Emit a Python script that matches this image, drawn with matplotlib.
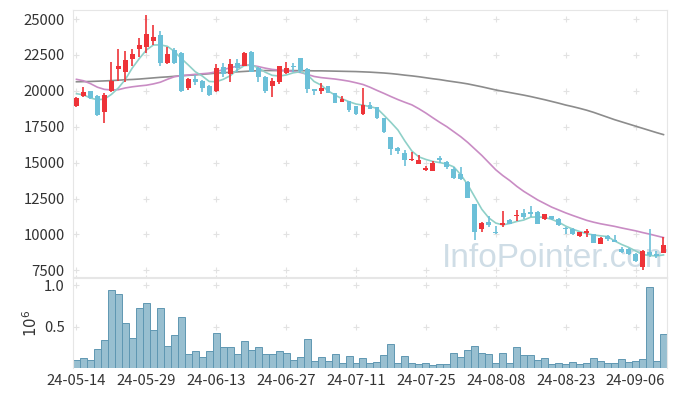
import matplotlib
matplotlib.use("Agg")
import matplotlib.pyplot as plt
import numpy as np

# x-axis labels (one every 10 trading days)
tick_labels = ["24-05-14", "24-05-29", "24-06-13", "24-06-27", "24-07-11",
               "24-07-25", "24-08-08", "24-08-23", "24-09-06"]

# daily candles
opens = [18950, 19640, 19990, 19650, 18550, 20000, 21520, 21310, 22220, 22900,
         23070, 23470, 23890, 21910, 22840, 22650, 20220, 20820, 20700, 20330,
         19990, 21640, 21150, 21910, 21750, 22680, 21570, 20980, 20360, 20630,
         21220, 21730, 22260, 21500, 20100, 19990, 20330, 19830, 19220, 19290,
         18940, 18380, 19010, 18890, 18130, 16780, 16040, 15690, 15180, 14920,
         14490, 14440, 15320, 15040, 14550, 14200, 13670, 12120, 10350, 10880,
         10190, 10630, 11000, 11260, 11510, 11560, 11560, 11050, 11280, 11100,
         10470, 10350, 9910, 10120, 10000, 9360, 9910, 9610, 8980, 9000,
         8640, 7750, 8770, 8640, 8680]
highs = [19550, 20240, 20000, 19700, 19830, 22030, 22890, 22790, 22890, 23650,
         25280, 24580, 24160, 23030, 22960, 22720, 20870, 21100, 20760, 20400,
         21870, 21910, 22190, 22190, 22700, 22770, 21640, 21000, 20870, 21730,
         22030, 21960, 22270, 21570, 20110, 20560, 20340, 19840, 19640, 19300,
         18950, 20220, 19240, 18900, 18140, 16800, 16100, 15880, 15740, 15510,
         14760, 15130, 15460, 15130, 14680, 14670, 13700, 12150, 10850, 11280,
         10580, 11630, 11050, 11700, 11790, 12000, 11600, 11450, 11300, 11150,
         10520, 10440, 10200, 10380, 10050, 9790, 9950, 9940, 9100, 9050,
         8680, 8910, 10400, 8860, 9800]
lows = [18900, 19590, 19450, 18250, 17780, 19940, 20680, 20630, 21750, 22380,
        22610, 23190, 21730, 21870, 21880, 19940, 20060, 20400, 19940, 19650,
        19940, 20980, 20630, 21330, 21700, 21290, 20630, 19830, 19550, 20450,
        21150, 21330, 21260, 19870, 19710, 19760, 19820, 19150, 19200, 18540,
        18350, 18350, 18700, 18010, 17080, 15510, 15580, 14760, 15090, 14900,
        14440, 14430, 14970, 14530, 13840, 13800, 12520, 9610, 10190, 10490,
        10050, 10540, 10700, 10950, 11100, 11200, 10740, 11000, 11000, 10600,
        10000, 9960, 9800, 9800, 9380, 9300, 9560, 9450, 8700, 8600,
        8100, 7520, 8450, 8330, 8680]
closes = [19480, 19940, 19480, 18320, 19700, 20700, 21730, 22150, 22560, 23190,
          23950, 23770, 21960, 22560, 21920, 19990, 20800, 20630, 20170, 19710,
          21570, 21150, 21870, 21570, 22610, 21330, 20980, 19990, 20680, 21730,
          21570, 21680, 21400, 20100, 19990, 20170, 19870, 19170, 19400, 18660,
          18380, 19010, 18710, 18130, 17150, 15970, 15830, 15180, 15270, 15180,
          14620, 14970, 15180, 14720, 13950, 13840, 12560, 10190, 10810, 10670,
          10110, 10810, 10730, 11370, 11230, 11420, 10740, 11400, 11050, 10660,
          10380, 10030, 10170, 10260, 9410, 9770, 9680, 9470, 8750, 8640,
          8150, 8820, 8540, 8520, 9260]
volumes = [100000, 120000, 100000, 230000, 340000, 940000, 890000, 540000, 360000, 720000,
           780000, 460000, 720000, 260000, 400000, 620000, 170000, 200000, 130000, 200000,
           420000, 250000, 250000, 170000, 320000, 220000, 250000, 170000, 170000, 200000,
           180000, 100000, 130000, 350000, 80000, 130000, 80000, 170000, 60000, 140000,
           60000, 120000, 60000, 70000, 160000, 290000, 60000, 140000, 60000, 50000,
           60000, 40000, 50000, 50000, 180000, 130000, 220000, 260000, 180000, 170000,
           60000, 180000, 60000, 250000, 160000, 160000, 100000, 120000, 50000, 60000,
           50000, 70000, 50000, 60000, 120000, 80000, 60000, 60000, 110000, 70000,
           80000, 110000, 980000, 80000, 410000]

# moving averages
ma5 = [19800, 19720, 19500, 19380, 19420, 19750, 20200, 20800, 21600, 22250,
       22840, 23190, 23200, 23100, 22750, 22250, 21800, 21330, 21030, 20650,
       20630, 20800, 21050, 21450, 21750, 21800, 21600, 21300, 21080, 21030,
       21100, 21250, 21330, 21150, 20650, 20400, 20000, 19700, 19450, 19240,
       19080, 19000, 18900, 18780, 18300, 17800, 17270, 16500, 15800, 15400,
       15220, 15080, 15000, 14900, 14700, 14150, 13450, 12600, 11750, 11150,
       10790, 10660, 10760, 10900, 11000, 11200, 11220, 11180, 11050, 10850,
       10580, 10370, 10200, 10050, 9960, 9900, 9850, 9550, 9300, 9100,
       8850, 8600, 8530, 8500, 8570]
ma20 = [20800, 20700, 20500, 20250, 20100, 20060, 20080, 20200, 20280, 20340,
        20390, 20480, 20600, 20800, 20980, 21050, 21100, 21150, 21190, 21230,
        21330, 21480, 21600, 21720, 21790, 21780, 21690, 21580, 21490, 21440,
        21400, 21350, 21280, 21150, 21000, 20920, 20870, 20820, 20750, 20670,
        20560, 20440, 20250, 20030, 19820, 19600, 19390, 19200, 19020, 18750,
        18450, 18120, 17800, 17500, 17150, 16800, 16400, 15950, 15500, 15000,
        14500, 14100, 13750, 13350, 13000, 12700, 12400, 12150, 11900, 11700,
        11500, 11320, 11150, 10980, 10850, 10740, 10650, 10560, 10450, 10350,
        10250, 10130, 10020, 9900, 9780]
ma120 = [20630, 20640, 20650, 20670, 20690, 20710, 20740, 20770, 20790, 20820,
         20860, 20900, 20940, 20970, 21010, 21050, 21080, 21110, 21150, 21190,
         21230, 21260, 21290, 21320, 21350, 21380, 21400, 21410, 21410, 21410,
         21410, 21410, 21400, 21400, 21390, 21390, 21380, 21370, 21360, 21350,
         21340, 21320, 21300, 21270, 21240, 21200, 21150, 21090, 21040, 20980,
         20910, 20840, 20780, 20700, 20630, 20560, 20480, 20380, 20280, 20170,
         20060, 19970, 19880, 19790, 19700, 19600, 19490, 19380, 19260, 19140,
         19010, 18900, 18780, 18650, 18500, 18330, 18160, 17990, 17840, 17690,
         17540, 17390, 17240, 17090, 16950]

UP = "#ee3338"
DOWN = "#6cc0d8"
GRID = "#e2e2e2"
TXT = "#333333"
FS = 10.7

n = len(closes)
x = np.arange(n)
o = np.array(opens)
c = np.array(closes)
colors = [UP if cc >= oo else DOWN for oo, cc in zip(o, c)]

plt.rcParams['font.family'] = ['Noto Sans CJK KR', 'DejaVu Sans']

fig = plt.figure(figsize=(6.77, 3.96), dpi=100)
ax = fig.add_axes([0.1078, 0.3005, 0.8774, 0.6742])
axv = fig.add_axes([0.1078, 0.0707, 0.8774, 0.2273], sharex=ax)

# price panel
ax.plot(x, ma120, color="#8c8c8c", lw=1.2, zorder=2)
ax.plot(x, ma20, color="#c98cc4", lw=1.2, zorder=2)
ax.plot(x, ma5, color="#8fd0c8", lw=1.2, zorder=2)
ax.vlines(x, lows, highs, colors=colors, lw=1.2, zorder=3)
body = np.maximum(np.abs(c - o), 40)
ax.bar(x, body, bottom=np.minimum(o, c), width=0.7, color=colors, zorder=4)

ax.text(52.3, 7729, "InfoPointer.com", fontsize=24, color="#cfdde6",
        family="Liberation Sans", ha="left", va="baseline", zorder=1, clip_on=True)

ax.set_xlim(-0.5, n - 0.5)
ax.set_ylim(7033, 25627)
yt = np.arange(7500, 25001, 2500)
ax.set_yticks(yt)
ax.set_yticklabels([str(v) for v in yt])
xt = np.arange(0, n, 10)[:len(tick_labels)]
ax.set_xticks(xt)
gx, gy = np.meshgrid(xt, yt)
ax.scatter(gx.ravel(), gy.ravel(), marker="+", s=18, color=GRID, lw=0.8, zorder=0)
ax.tick_params(axis="x", labelbottom=False, length=3, color=GRID, direction="inout")
ax.tick_params(axis="y", length=0, pad=6, labelsize=FS, labelcolor=TXT)
for sp in ax.spines.values():
    sp.set_color("#e6e6e6")
    sp.set_linewidth(0.8)

# volume panel
vol = np.array(volumes) / 1e6
axv.bar(x, vol, width=1.0, color="#98bfd0", edgecolor="#5f97b2", lw=0.7, zorder=2)
axv.set_ylim(0, 1.085)
axv.set_yticks([0.5, 1.0])
axv.set_yticklabels(["0.5", "1.0"])
axv.set_ylabel(r"$10^6$", fontsize=FS, color=TXT, labelpad=3)
axv.set_xticks(xt)
axv.set_xticklabels(tick_labels)
vx, vy = np.meshgrid(xt, [0.5, 1.0])
axv.scatter(vx.ravel(), vy.ravel(), marker="+", s=18, color=GRID, lw=0.8, zorder=1)
axv.tick_params(axis="x", length=0, pad=4, labelsize=FS, labelcolor=TXT)
axv.tick_params(axis="y", length=0, pad=6, labelsize=FS, labelcolor=TXT)
for sp in axv.spines.values():
    sp.set_color("#e6e6e6")
    sp.set_linewidth(0.8)
axv.spines["bottom"].set_visible(False)

fig.savefig("out.png", dpi=100)
